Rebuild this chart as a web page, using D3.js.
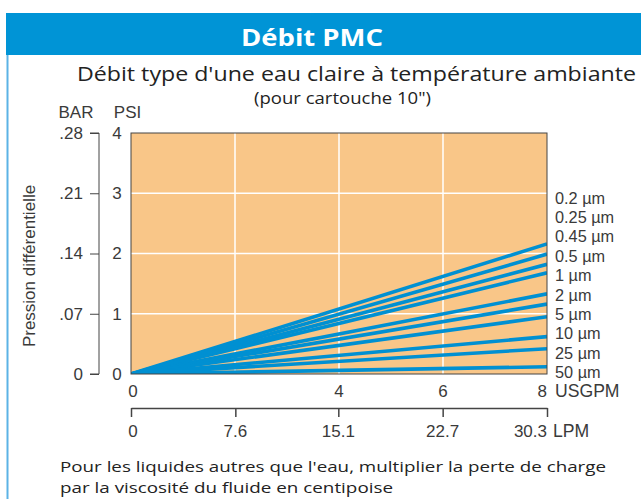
<!DOCTYPE html>
<html>
<head>
<meta charset="utf-8">
<script src="https://cdn.jsdelivr.net/npm/d3@7"></script>
<style>
  body { margin: 0; background: #fff; }
  svg text { font-family: "Liberation Sans", Arial, sans-serif; }
  .heading { font-family: "Open Sans", "Noto Sans", sans-serif !important; }
</style>
</head>
<body>
<div id="chart"></div>
<script>
// Data
var ratings = ["0.2 µm", "0.25 µm", "0.45 µm", "0.5 µm", "1 µm", "2 µm", "5 µm", "10 µm", "25 µm", "50 µm"];
var flowUsgpm = [0, 8];
var psiAtMaxFlow = [2.16, 1.99, 1.82, 1.68, 1.33, 1.16, 0.95, 0.62, 0.42, 0.12];
var psiTicks = [0, 1, 2, 3, 4];
var barTickLabels = ["0", ".07", ".14", ".21", ".28"];
var usgpmGrid = [2, 4, 6];
var usgpmLabels = [0, 4, 6, 8];
var lpmTicks = [0, 7.6, 15.1, 22.7, 30.3];

var svgWidth = 641;
var svgHeight = 499;

var margin = { top: 133, right: 94, bottom: 125, left: 131 };
var width = svgWidth - margin.left - margin.right;
var height = svgHeight - margin.top - margin.bottom;

var axisFont = 17;
var axisColor = "#3a3a3a";

var svg = d3.select("#chart")
  .append("svg")
  .attr("width", svgWidth)
  .attr("height", svgHeight);

// header banner and frame
svg.append("rect")
  .attr("x", 6).attr("y", 13)
  .attr("width", svgWidth - 6).attr("height", 42)
  .attr("fill", "#0094d6");

svg.append("line")
  .attr("x1", 7.5).attr("x2", 7.5)
  .attr("y1", 55).attr("y2", svgHeight)
  .attr("stroke", "#5cb3e6")
  .attr("stroke-width", 2);

// headings are stretched a bit to match the wider original lettering
function heading(x, y, size, len, txt, color, bold) {
  return svg.append("text")
    .attr("class", "heading")
    .attr("x", x).attr("y", y)
    .attr("font-size", size)
    .attr("font-weight", bold ? "bold" : "normal")
    .attr("fill", color)
    .attr("textLength", len)
    .attr("lengthAdjust", "spacingAndGlyphs")
    .text(txt);
}

heading(241, 46, 24, 142, "Débit PMC", "#fff", true);
heading(77, 81, 19.5, 559, "Débit type d'une eau claire à température ambiante", "#222");
heading(254, 104, 16, 177, "(pour cartouche 10\")", "#222");

// scales
var xScale = d3.scaleLinear().domain([0, 8]).range([0, width]);
var yScale = d3.scaleLinear().domain([0, 4]).range([height, 0]);
var lpmScale = d3.scaleLinear().domain([0, 30.3]).range([0, width]);

var chartGroup = svg.append("g")
  .attr("transform", `translate(${margin.left}, ${margin.top})`);

chartGroup.append("rect")
  .attr("width", width)
  .attr("height", height)
  .attr("fill", "#f9c688");

// grid lines
chartGroup.append("g")
  .selectAll("line")
  .data(usgpmGrid)
  .enter()
  .append("line")
  .attr("x1", d => xScale(d)).attr("x2", d => xScale(d))
  .attr("y1", 0).attr("y2", height)
  .attr("stroke", "#fff")
  .attr("stroke-width", 1.5);

chartGroup.append("g")
  .selectAll("line")
  .data(psiTicks.slice(1, -1))
  .enter()
  .append("line")
  .attr("x1", 0).attr("x2", width)
  .attr("y1", d => yScale(d)).attr("y2", d => yScale(d))
  .attr("stroke", "#fff")
  .attr("stroke-width", 1.5);

// series lines
chartGroup.append("clipPath")
  .attr("id", "plotClip")
  .append("rect")
  .attr("width", width)
  .attr("height", height);

var line = d3.line()
  .x(d => xScale(d[0]))
  .y(d => yScale(d[1]));

chartGroup.append("g")
  .attr("clip-path", "url(#plotClip)")
  .selectAll("path")
  .data(psiAtMaxFlow)
  .enter()
  .append("path")
  .attr("d", v => line([[flowUsgpm[0], 0], [flowUsgpm[1], v]]))
  .attr("fill", "none")
  .attr("stroke", "#0090d2")
  .attr("stroke-width", 3.6);

chartGroup.append("rect")
  .attr("width", width)
  .attr("height", height)
  .attr("fill", "none")
  .attr("stroke", "#444")
  .attr("stroke-width", 1);

// rating labels on the right
var labelScale = d3.scaleLinear()
  .domain([0, ratings.length - 1])
  .range([yScale(2.92), yScale(0.03)]);

chartGroup.append("g")
  .selectAll("text")
  .data(ratings)
  .enter()
  .append("text")
  .attr("x", width + 8)
  .attr("y", (d, i) => labelScale(i))
  .attr("dy", "0.35em")
  .attr("font-size", 16.3)
  .attr("fill", axisColor)
  .text(d => d);

// PSI axis labels
chartGroup.append("g")
  .selectAll("text")
  .data(psiTicks)
  .enter()
  .append("text")
  .attr("x", -14)
  .attr("y", d => yScale(d))
  .attr("dy", "0.35em")
  .attr("text-anchor", "middle")
  .attr("font-size", axisFont)
  .attr("fill", axisColor)
  .text(d => d);

// BAR axis
var barAxis = d3.axisLeft(yScale)
  .tickValues(psiTicks)
  .tickSize(9)
  .tickPadding(7)
  .tickFormat((d, i) => barTickLabels[i]);

var barGroup = chartGroup.append("g")
  .attr("transform", "translate(-32, 0)")
  .call(barAxis);
barGroup.select(".domain").attr("stroke", "#444").attr("d", `M-9,0H0V${height}H-9`);
barGroup.selectAll(".tick line").attr("stroke", "#444");
barGroup.selectAll(".tick text")
  .attr("font-size", axisFont)
  .attr("fill", axisColor)
  .attr("font-family", "Liberation Sans, Arial, sans-serif");

svg.append("text")
  .attr("x", 76).attr("y", 118)
  .attr("text-anchor", "middle")
  .attr("font-size", axisFont)
  .attr("fill", axisColor)
  .text("BAR");

svg.append("text")
  .attr("x", 127.5).attr("y", 118)
  .attr("text-anchor", "middle")
  .attr("font-size", axisFont)
  .attr("fill", axisColor)
  .text("PSI");

svg.append("text")
  .attr("transform", "translate(35, 266) rotate(-90)")
  .attr("text-anchor", "middle")
  .attr("font-size", 17)
  .attr("fill", axisColor)
  .text("Pression différentielle");

// USGPM labels
chartGroup.append("g")
  .selectAll("text")
  .data(usgpmLabels)
  .enter()
  .append("text")
  .attr("x", d => xScale(d))
  .attr("y", height + 23)
  .attr("text-anchor", (d, i) => i === usgpmLabels.length - 1 ? "end" : "middle")
  .attr("dx", (d, i) => i === 0 ? 2 : 0)
  .attr("font-size", axisFont)
  .attr("fill", axisColor)
  .text(d => d);

chartGroup.append("text")
  .attr("x", width + 8)
  .attr("y", height + 23)
  .attr("font-size", 17.6)
  .attr("fill", axisColor)
  .text("USGPM");

// LPM axis
var lpmAxis = d3.axisBottom(lpmScale)
  .tickValues(lpmTicks)
  .tickSize(9)
  .tickSizeOuter(0)
  .tickFormat(d => d);

var lpmGroup = chartGroup.append("g")
  .attr("transform", `translate(0, ${height + 34})`)
  .call(lpmAxis);
lpmGroup.select(".domain").attr("stroke", "#444").attr("stroke-width", 1.5);
lpmGroup.selectAll(".tick line").attr("stroke", "#444").attr("stroke-width", 1.5);
lpmGroup.selectAll(".tick text").remove();

chartGroup.append("g")
  .selectAll("text")
  .data(lpmTicks)
  .enter()
  .append("text")
  .attr("x", d => lpmScale(d))
  .attr("y", height + 63)
  .attr("text-anchor", (d, i) => i === lpmTicks.length - 1 ? "end" : "middle")
  .attr("dx", (d, i) => i === 0 ? 2 : 0)
  .attr("font-size", axisFont)
  .attr("fill", axisColor)
  .text(d => d);

chartGroup.append("text")
  .attr("x", width + 6)
  .attr("y", height + 63)
  .attr("font-size", 17.6)
  .attr("fill", axisColor)
  .text("LPM");

// footnote
heading(60, 472, 15.3, 546, "Pour les liquides autres que l'eau, multiplier la perte de charge", "#222");
heading(60, 493, 15.3, 333, "par la viscosité du fluide en centipoise", "#222");
</script>
</body>
</html>
